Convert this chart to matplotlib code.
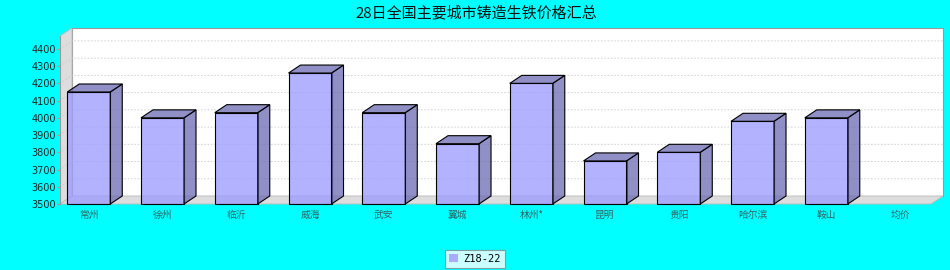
import matplotlib
matplotlib.use("Agg")
import matplotlib.pyplot as plt
from matplotlib.patches import Polygon, Rectangle

plt.rcParams['font.family'] = ['Noto Sans CJK SC', 'DejaVu Sans']

# data
title = "28日全国主要城市铸造生铁价格汇总"
cities = ["常州", "徐州", "临沂", "威海", "武安", "翼城", "林州*", "昆明", "贵阳", "哈尔滨", "鞍山", "均价"]
prices = [4150, 4000, 4030, 4260, 4030, 3850, 4200, 3750, 3800, 3980, 4000, None]
series_name = "Z18-22"
yticks = [3500, 3600, 3700, 3800, 3900, 4000, 4100, 4200, 4300, 4400]

W, H = 950, 270
fig = plt.figure(figsize=(W / 100, H / 100), dpi=100, facecolor='#00FFFF')
# front face of the plot area in pixels: x 60..931, y 36..204
ax = fig.add_axes([60 / W, (H - 204) / H, 871 / W, 168 / H])
x0, x1 = -0.39, 11.42
y0, y1 = 3500, 4475
ax.set_xlim(x0, x1)
ax.set_ylim(y0, y1)
ax.patch.set_visible(False)

# 3d depth offset (12 px right, 8 px up) in data units
dx = 12 / (871 / (x1 - x0))
dy = 8 / (168 / (y1 - y0))

# back wall, left wall, floor
ax.add_patch(Rectangle((x0 + dx, y0 + dy), x1 - x0, y1 - y0, facecolor='white',
                       edgecolor='#999999', lw=0.8, clip_on=False, zorder=0))
ax.add_patch(Polygon([(x0, y0), (x0 + dx, y0 + dy), (x0 + dx, y1 + dy), (x0, y1)],
                     facecolor='#DDDDDD', edgecolor='#BBBBBB', lw=0.6, clip_on=False, zorder=1))
ax.add_patch(Polygon([(x0, y0), (x0 + dx, y0 + dy), (x1 + dx, y0 + dy), (x1, y0)],
                     facecolor='#DDDDDD', edgecolor='#BBBBBB', lw=0.6, clip_on=False, zorder=1))

# grid lines on left wall and back wall
for v in yticks[1:]:
    ax.plot([x0, x0 + dx, x1 + dx], [v, v + dy, v + dy], color='#CCCCCC', lw=0.6,
            ls=(0, (2, 2)), clip_on=False, zorder=2)

# bars
w = 0.583
front = (0.6, 0.6, 1.0, 0.75)
side = (0.42, 0.42, 0.7, 0.75)
for i, v in enumerate(prices):
    if v is None:
        continue
    l, r = i - w / 2, i + w / 2
    ax.add_patch(Rectangle((l, y0), w, v - y0, facecolor=front, edgecolor='black',
                           lw=0.8, zorder=3, clip_on=False))
    ax.add_patch(Polygon([(r, y0), (r + dx, y0 + dy), (r + dx, v + dy), (r, v)],
                         facecolor=side, edgecolor='black', lw=0.8, zorder=3, clip_on=False))
    ax.add_patch(Polygon([(l, v), (l + dx, v + dy), (r + dx, v + dy), (r, v)],
                         facecolor=side, edgecolor='black', lw=0.8, zorder=3, clip_on=False))

# axes
for s in ['top', 'right', 'bottom']:
    ax.spines[s].set_visible(False)
ax.spines['left'].set_color('#999999')
ax.spines['left'].set_linewidth(0.8)
ax.set_yticks(yticks)
ax.set_yticklabels([str(t) for t in yticks], fontsize=7, color='#222222', family='DejaVu Sans')
ax.tick_params(axis='y', length=2, width=0.8, color='#CC8888', pad=1)
ax.set_xticks(range(len(cities)))
ax.set_xticklabels(cities, fontsize=7, color='#336666')
ax.tick_params(axis='x', length=0, pad=4)

fig.text(476 / W, 1 - 13 / H, title, ha='center', va='center', fontsize=10.8, color='#111111')

handle = Rectangle((0, 0), 1, 1, facecolor='#AAAAFF', edgecolor='none')
leg = fig.legend([handle], [series_name], loc='center', bbox_to_anchor=(475 / W, 1 - 259 / H),
                 prop={'family': 'DejaVu Sans Mono', 'size': 7.5}, frameon=True, fancybox=False,
                 handlelength=0.8, handleheight=0.8, handletextpad=0.5, borderpad=0.4)
leg.get_frame().set_edgecolor('#888888')
leg.get_frame().set_linewidth(0.8)

fig.savefig('out.png', dpi=100, facecolor=fig.get_facecolor())
